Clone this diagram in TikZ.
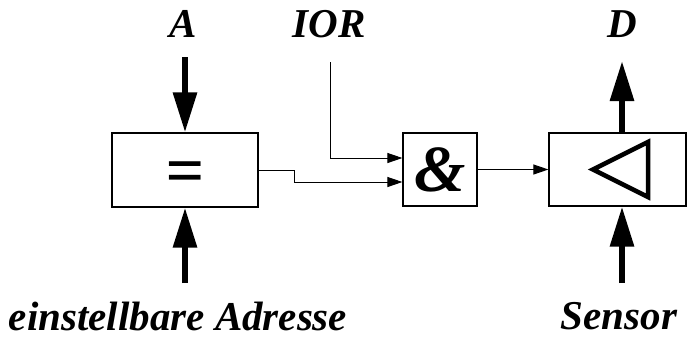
\documentclass[tikz,border=0pt]{standalone}
\usepackage{fontspec}
\setmainfont{Liberation Serif}
\usetikzlibrary{arrows.meta,positioning}

\tikzset{
  blk/.style={draw,line width=1.2pt,inner sep=0pt},
  lbl/.style={font=\fontsize{41}{48}\selectfont\bfseries\itshape,inner sep=0pt},
  fat/.style={line width=6pt,-{Triangle[length=40pt,width=23pt]}},
  thin/.style={line width=1pt,-{Triangle[length=15pt,width=10pt]}}
}

\begin{document}
\begin{tikzpicture}[x=1pt,y=-1pt]
\useasboundingbox (0,0) rectangle (687,338);
% boxes
\node[blk,minimum width=146pt,minimum height=74pt] (eq) at (185,170)
    {\fontsize{68}{68}\selectfont\bfseries\itshape \smash{\raisebox{-23pt}{=}}};
\node[blk,minimum width=74pt,minimum height=73pt] (und) at (440,169.5)
    {\fontsize{66}{66}\selectfont\bfseries\itshape \&};
\node[blk,minimum width=137pt,minimum height=73pt] (sens) at (617.5,169.5) {};
\draw[line width=4.5pt,line join=miter] (593,169.5) -- (648,142) -- (648,197) -- cycle;
% labels
\node[lbl] (lA) at (183,24) {A};
\node[lbl] (lIOR) at (329,24) {IOR};
\node[lbl] (lD) at (622,24) {D};
\node[lbl] (lAdr) at (178,316) {einstellbare Adresse};
\node[lbl] (lSens) at (619,316) {Sensor};
% ends
\coordinate (aTop) at (185,57);
\coordinate (iorTop) at (330,62);
\coordinate (dTop) at (622,61);
\coordinate (adrBot) at (185,283);
\coordinate (sensBot) at (622,283);
% fat arrows
\draw[fat] (aTop) -- (eq.north);
\draw[fat] (adrBot) -- (eq.south);
\draw[fat] (sens.north -| dTop) -- (dTop);
\draw[fat] (sensBot) -- (sens.south -| sensBot);
% signal lines
\draw[thin] (iorTop) |- (und.west |- 0,158);
\draw[thin] (eq.east |- 0,170) -- (294,170) -- (294,182) -- (und.west |- 0,182);
\draw[thin] (und.east) -- (sens.west);
\end{tikzpicture}
\end{document}
